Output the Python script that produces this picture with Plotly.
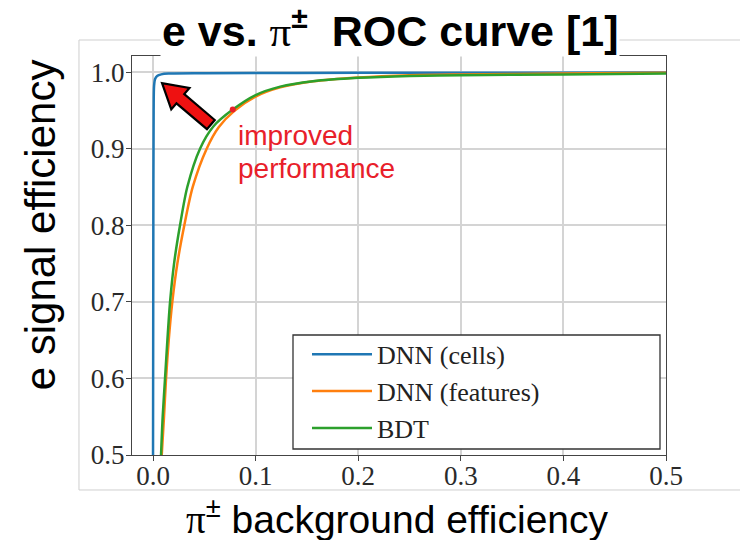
import plotly.graph_objects as go

# ---- data ----
cells_x = [0.0, 0.0003, 0.0006, 0.001, 0.002, 0.004, 0.008, 0.015, 0.05, 0.2, 0.5]
cells_y = [0.5, 0.80, 0.95, 0.982, 0.991, 0.995, 0.997, 0.998, 0.9985, 0.999, 0.9993]

feat_x = [0.0085, 0.0107, 0.0127, 0.0153, 0.0188, 0.0237, 0.0305, 0.0387, 0.0523, 0.064, 0.079,
          0.10, 0.124, 0.156, 0.20, 0.25, 0.30, 0.40, 0.50]
feat_y = [0.50, 0.55, 0.60, 0.65, 0.70, 0.75, 0.80, 0.85, 0.90, 0.928, 0.949,
          0.968, 0.980, 0.988, 0.993, 0.996, 0.997, 0.998, 0.999]

bdt_x = [0.0078, 0.0094, 0.0117, 0.014, 0.0166, 0.0205, 0.0263, 0.0334, 0.0458, 0.0588, 0.0777,
         0.10, 0.124, 0.156, 0.20, 0.25, 0.30, 0.40, 0.50]
bdt_y = [0.50, 0.55, 0.60, 0.65, 0.70, 0.75, 0.80, 0.85, 0.90, 0.929, 0.951,
         0.970, 0.981, 0.988, 0.9925, 0.995, 0.996, 0.997, 0.998]

dot_x = [0.0777]
dot_y = [0.951]

names = ["DNN (cells)", "DNN (features)", "BDT"]
colors = ["#1f77b4", "#ff7f0e", "#2ca02c"]

x_ticks = [0.0, 0.1, 0.2, 0.3, 0.4, 0.5]
y_ticks = [0.5, 0.6, 0.7, 0.8, 0.9, 1.0]

fig = go.Figure()
for xs, ys, nm, c in zip([cells_x, feat_x, bdt_x], [cells_y, feat_y, bdt_y], names, colors):
    fig.add_trace(go.Scatter(x=xs, y=ys, mode="lines", name=nm,
                             line=dict(color=c, width=2.5, shape="spline", smoothing=0.8)))
fig.add_trace(go.Scatter(x=dot_x, y=dot_y, mode="markers", showlegend=False,
                         marker=dict(color="#e8202a", size=6)))

serif = "Liberation Serif, Times New Roman, serif"
sans = "Liberation Sans, Arial, sans-serif"

axis_common = dict(showline=True, linecolor="#444", linewidth=1.3, mirror=True,
                   ticks="outside", ticklen=5, tickcolor="#444", tickwidth=1.2,
                   showgrid=True, gridcolor="#d4d4d4", gridwidth=1.5,
                   zeroline=False, tickfont=dict(family=serif, size=27, color="#2a2a2a"),
                   tickformat=".1f")

fig.update_layout(
    width=740, height=540,
    margin=dict(l=132, r=74, t=56, b=85),
    paper_bgcolor="white", plot_bgcolor="white",
    xaxis=dict(range=[-0.0205, 0.5], tickvals=x_ticks, ticklabelstandoff=-9, **axis_common),
    yaxis=dict(range=[0.5, 1.021], tickvals=y_ticks, ticklabelstandoff=-4, **axis_common),
    legend=dict(x=0.3015, y=0.311, xanchor="left", yanchor="top",
                borderwidth=0, bgcolor="rgba(0,0,0,0)",
                font=dict(family=serif, size=26, color="#222"),
                itemwidth=60, tracegroupgap=0, indentation=14),
    showlegend=True,
)

# legend frame (box wider than its entries, as in the reference)
fig.add_shape(type="rect", xref="paper", yref="paper", layer="above",
              x0=(293 - 132) / 534, x1=(660 - 132) / 534,
              y0=(455 - 449) / 399, y1=(455 - 335) / 399,
              fillcolor="white", line=dict(color="#333", width=1.3))

# outer light frame
frame = dict(type="line", xref="paper", yref="paper", line=dict(color="#cfcfcf", width=1))
fig.add_shape(x0=-0.0993, x1=-0.0993, y0=-0.0877, y1=1.0401, **frame)
fig.add_shape(x0=-0.0993, x1=1.14, y0=1.0401, y1=1.0401, **frame)
fig.add_shape(x0=-0.0993, x1=1.14, y0=-0.0877, y1=-0.0877, **frame)

# fat red arrow with black outline (pixel offsets relative to tip)
fig.add_shape(type="path", xref="x", yref="y", xsizemode="pixel", ysizemode="pixel",
              xanchor=0.0088, yanchor=0.9856,
              path="M0,0 L9.2,-26.3 L14.4,-20.2 L44.9,-46.1 L52.7,-36.9 L22.2,-11.0 L27.4,-4.9 Z",
              fillcolor="#ee1111", line=dict(color="black", width=2.2))

# title & axis titles
fig.add_annotation(xref="paper", yref="paper", x=0.483, y=1.07, xanchor="center", yanchor="middle",
                   text="e vs. <span style='font-family:Liberation Serif;font-weight:normal'>π</span><sup>±</sup>\u00a0 ROC curve [1]",
                   showarrow=False, bgcolor="white",
                   font=dict(family=sans, size=43, color="black", weight="bold"))
fig.add_annotation(xref="paper", yref="paper", x=-0.172, y=0.576, xanchor="center", yanchor="middle",
                   text="e signal efficiency", textangle=-90, showarrow=False,
                   font=dict(family=sans, size=42, color="black"))
fig.add_annotation(xref="paper", yref="paper", x=0.498, y=-0.155, xanchor="center", yanchor="middle",
                   text="<span style='font-family:Liberation Serif'>π</span><sup>±</sup> background efficiency",
                   showarrow=False, font=dict(family=sans, size=39, color="black"))

# red note
for txt, yy in [("improved", 0.9178), ("performance", 0.8747)]:
    fig.add_annotation(xref="x", yref="y", x=0.081, y=yy, xanchor="left", yanchor="middle",
                       text=txt, showarrow=False,
                       font=dict(family=sans, size=28, color="#e8202a"))

fig.write_html("out.html")
